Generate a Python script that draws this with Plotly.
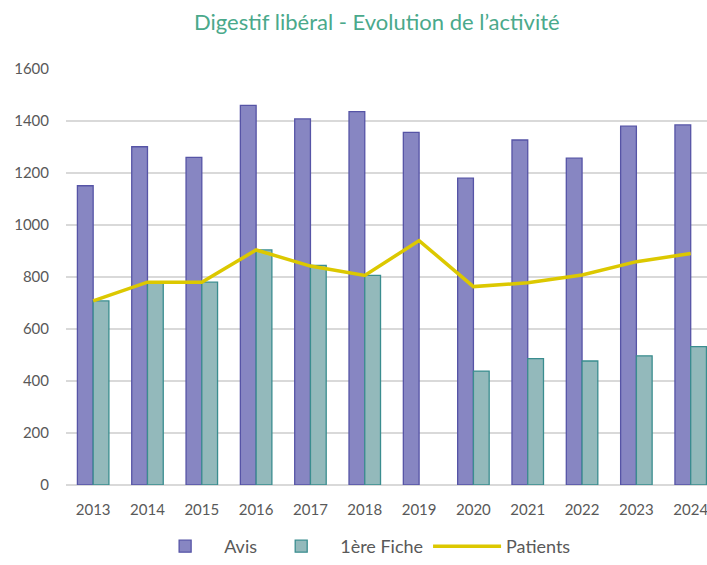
import plotly.graph_objects as go

years = ["2013", "2014", "2015", "2016", "2017", "2018", "2019", "2020", "2021", "2022", "2023", "2024"]
avis = [1151, 1301, 1260, 1460, 1408, 1436, 1356, 1180, 1327, 1257, 1380, 1385]
premiere_fiche = [708, 778, 780, 904, 845, 806, None, 438, 486, 477, 497, 532]
patients = [708, 780, 780, 904, 842, 806, 940, 763, 778, 808, 859, 890]
y_ticks = [0, 200, 400, 600, 800, 1000, 1200, 1400, 1600]

xpos = list(range(len(years)))
FONT = "Lato, Open Sans, sans-serif"

fig = go.Figure()
fig.add_trace(go.Bar(
    x=xpos, y=avis, name="Avis",
    marker=dict(color="#8786c2", line=dict(color="#5654a6", width=1.3)),
))
fig.add_trace(go.Bar(
    x=xpos, y=premiere_fiche, name="1ère Fiche",
    marker=dict(color="#93b9bb", line=dict(color="#3a8d8f", width=1.3)),
))
fig.add_trace(go.Scatter(
    x=xpos, y=patients, name="Patients", mode="lines",
    line=dict(color="#dcc800", width=3.5),
))

fig.update_layout(
    width=707, height=565,
    paper_bgcolor="white", plot_bgcolor="white",
    margin=dict(l=66, r=0, t=69, b=80, autoexpand=False),
    barmode="group", bargap=0.42, bargroupgap=0,
    title=dict(text="Digestif libéral - Evolution de l’activité",
               xref="container", x=0.533, xanchor="center",
               yref="container", y=0.961, yanchor="middle",
               font=dict(family=FONT, size=22, color="#4aa98b")),
    font=dict(family=FONT, size=15, color="#595959"),
    showlegend=True,
    legend=dict(orientation="h", xref="paper", x=0.125, xanchor="left",
                yref="container", y=-0.012, yanchor="bottom",
                font=dict(family=FONT, size=18, color="#595959"),
                traceorder="normal", itemwidth=68),
)
fig.update_xaxes(
    range=[-0.5, 11.3], tickmode="array", tickvals=xpos, ticktext=years,
    showgrid=False, zeroline=False, showline=False, ticks="",
    automargin=False, ticklabelstandoff=14, ticklabeloverflow="allow",
    tickfont=dict(family=FONT, size=15, color="#595959"),
)
fig.update_yaxes(
    range=[0, 1600], tickmode="array", tickvals=y_ticks,
    showgrid=True, gridcolor="#d9d9d9", gridwidth=1.5,
    zeroline=True, zerolinecolor="#d9d9d9", zerolinewidth=1.5,
    showline=False, ticks="", ticklabelstandoff=16, automargin=False,
    tickfont=dict(family=FONT, size=15, color="#595959"),
)

fig.write_html("out.html", config={"displayModeBar": False},
               post_script="document.body.style.margin='0';")
